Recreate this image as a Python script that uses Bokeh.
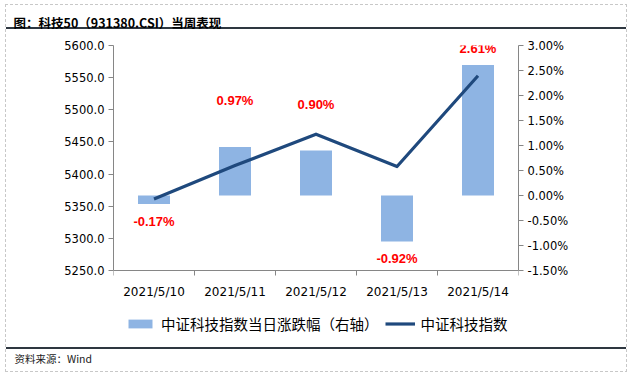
from bokeh.plotting import figure
from bokeh.models import (ColumnDataSource, Range1d, LinearAxis, FixedTicker,
                          PrintfTickFormatter, Legend, LegendItem, LabelSet, Title)
from bokeh.embed import file_html
from bokeh.resources import INLINE
from bokeh.core.properties import value

# ---------------- data ----------------
dates = ["2021/5/10", "2021/5/11", "2021/5/12", "2021/5/13", "2021/5/14"]
index_close = [5361.2, 5413.2, 5462.0, 5411.7, 5553.0]
daily_change_pct = [-0.17, 0.97, 0.90, -0.92, 2.61]
left_ticks = [5250, 5300, 5350, 5400, 5450, 5500, 5550, 5600]
right_ticks = [-1.5, -1.0, -0.5, 0.0, 0.5, 1.0, 1.5, 2.0, 2.5, 3.0]

title_text = "图：科技50（931380.CSI）当周表现"
source_text = "资料来源：Wind"
bar_legend = "中证科技指数当日涨跌幅（右轴）"
line_legend = "中证科技指数"

# layout tuning: label offset from bar end, in screen pixels (up positive)
label_offset_px = [-17, 47, 46, -17, 17]

# ---------------- page geometry (pixels) ----------------
W, H = 628, 373
PLOT_L, PLOT_R, PLOT_T, PLOT_B = 113, 518, 45, 270   # axes box
FRAME_B = 345                                        # frame extends below axes box (legend area)

AXIS_COLOR = "#868686"
TICK_FONT = "DejaVu Sans"
CJK_FONT = "Noto Sans CJK SC"
BAR_COLOR = "#8EB4E3"
LINE_COLOR = "#1F497D"
RULE = "#2E3740"
DASH = "#C8C8C8"

# extend the value ranges below the axes box so the frame also hosts the legend
l_lo, l_hi = min(left_ticks), max(left_ticks)
r_lo, r_hi = min(right_ticks), max(right_ticks)
extra_px = FRAME_B - PLOT_B
l_ext = (l_hi - l_lo) * extra_px / (PLOT_B - PLOT_T)
r_ext = (r_hi - r_lo) * extra_px / (PLOT_B - PLOT_T)

x_pos = [i + 0.5 for i in range(len(dates))]
labels = [f"{v:.2f}%" for v in daily_change_pct]
src = ColumnDataSource(dict(x=x_pos, close=index_close, pct=daily_change_pct,
                            label=labels, dy=label_offset_px))
cat_src = ColumnDataSource(dict(x=x_pos, date=dates, base=[l_lo] * len(dates)))

# page decorations (title rule, source rule, dashed outer frame) as CSS backgrounds
solid = f"linear-gradient({RULE},{RULE})"
hdash = f"repeating-linear-gradient(to right,{DASH} 0 3px,transparent 3px 5px)"
vdash = f"repeating-linear-gradient(to bottom,{DASH} 0 3px,transparent 3px 5px)"
bg = ", ".join([
    f"{solid} 6px 27px / 620px 2px no-repeat",
    f"{solid} 6px 347px / 620px 2px no-repeat",
    f"{hdash} 5px 4px / 622px 1px no-repeat",
    f"{hdash} 5px 371px / 622px 1px no-repeat",
    f"{vdash} 5px 4px / 1px 368px no-repeat",
    f"{vdash} 626px 4px / 1px 368px no-repeat",
])

p = figure(frame_width=PLOT_R - PLOT_L, frame_height=FRAME_B - PLOT_T,
           x_range=Range1d(0, len(dates)),
           y_range=Range1d(l_lo - l_ext, l_hi),
           output_backend="svg", toolbar_location=None,
           min_border_left=PLOT_L, min_border_right=W - PLOT_R,
           min_border_top=PLOT_T, min_border_bottom=H - FRAME_B,
           styles={"background": bg + ", #ffffff"})
p.extra_y_ranges = {"pct": Range1d(r_lo - r_ext, r_hi)}
p.outline_line_color = None
p.xgrid.visible = False
p.ygrid.visible = False
p.border_fill_color = None
p.background_fill_color = None

bars = p.vbar(x="x", top="pct", bottom=0, width=0.395, y_range_name="pct",
              fill_color=BAR_COLOR, line_color=None, source=src)
line = p.line(x="x", y="close", line_width=3.2, line_color=LINE_COLOR,
              line_join="round", source=src)
p.add_layout(LabelSet(x="x", y="pct", text="label", y_offset="dy",
                      y_range_name="pct", source=src,
                      text_align="center", text_baseline="middle",
                      text_color="#FF0000", text_font=value("Liberation Sans"),
                      text_font_style="bold", text_font_size="13px"))

# left axis
ya = p.yaxis[0]
ya.ticker = FixedTicker(ticks=left_ticks)
ya.formatter = PrintfTickFormatter(format="%.1f")
ya.bounds = (l_lo, l_hi)

# right axis
ra = LinearAxis(y_range_name="pct", ticker=FixedTicker(ticks=right_ticks),
                formatter=PrintfTickFormatter(format="%.2f%%"), bounds=(r_lo, r_hi))
p.add_layout(ra, "right")

for ax in (ya, ra):
    ax.axis_line_color = AXIS_COLOR
    ax.major_tick_line_color = AXIS_COLOR
    ax.major_tick_out = 5
    ax.major_tick_in = 0
    ax.minor_tick_out = 0
    ax.minor_tick_in = 0
    ax.major_label_text_font = TICK_FONT
    ax.major_label_text_font_size = "11.5px"
    ax.major_label_text_color = "#000000"
    ax.major_label_standoff = 4

# x axis: drawn at the bottom of the axes box, category boundaries as ticks
xa = p.xaxis[0]
xa.fixed_location = l_lo
xa.ticker = FixedTicker(ticks=[], minor_ticks=list(range(len(dates) + 1)))
xa.axis_line_color = AXIS_COLOR
xa.major_tick_out = 0
xa.major_tick_in = 0
xa.minor_tick_out = 5
xa.minor_tick_in = 0
xa.minor_tick_line_color = AXIS_COLOR
xa.major_label_standoff = 0
# category labels under each category
p.add_layout(LabelSet(x="x", y="base", text="date", source=cat_src, y_offset=-21,
                      text_align="center", text_baseline="middle",
                      text_color="#000000", text_font=value(TICK_FONT),
                      text_font_size="12px"))

# legend under the axes box (inside the frame)
legend = Legend(items=[LegendItem(label=bar_legend, renderers=[bars]),
                       LegendItem(label=line_legend, renderers=[line])],
                orientation="horizontal", location=(12, 11),
                border_line_color=None, background_fill_alpha=0,
                label_text_font=CJK_FONT, label_text_font_size="14.5px",
                label_text_color="#000000", label_height=20,
                glyph_width=30, glyph_height=11, label_standoff=6, spacing=6,
                padding=0, margin=0)
p.add_layout(legend)

# title (top) and source note (bottom)
p.title = Title(text=title_text, align="left", offset=-100, vertical_align="top",
                text_font=CJK_FONT, text_font_style="bold", text_font_size="12.5px",
                text_color="#000000", standoff=23)
p.add_layout(Title(text=source_text, align="left", offset=-99,
                   text_font=CJK_FONT, text_font_style="normal",
                   text_font_size="10.5px", text_color="#1a1a1a", standoff=6),
             "below")

open("out.html", "w").write(file_html(p, INLINE))
